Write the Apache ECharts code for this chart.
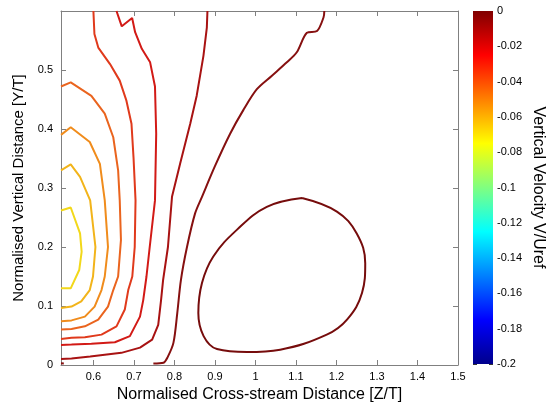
<!DOCTYPE html>
<html>
<head>
<meta charset="utf-8">
<script src="https://cdn.jsdelivr.net/npm/echarts@6/dist/echarts.min.js"></script>
<style>
html, body { margin: 0; padding: 0; background: #fff; }
#chart { width: 547px; height: 408px; }
</style>
</head>
<body>
<div id="chart"></div>
<script>
// tick labels
var xTicks = [0.6, 0.7, 0.8, 0.9, 1, 1.1, 1.2, 1.3, 1.4, 1.5];
var yTicks = [0, 0.1, 0.2, 0.3, 0.4, 0.5];

// contour lines, [z/T, y/T], innermost first
var c075 = [[0.52, 0.262], [0.544, 0.267], [0.567, 0.223], [0.571, 0.192], [0.565, 0.161], [0.544, 0.130], [0.52, 0.130]];
var c065 = [[0.52, 0.330], [0.544, 0.340], [0.567, 0.319], [0.592, 0.279], [0.605, 0.200], [0.599, 0.150], [0.591, 0.127], [0.570, 0.108], [0.546, 0.099], [0.52, 0.0965]];
var c055 = [[0.52, 0.390], [0.544, 0.403], [0.591, 0.378], [0.616, 0.341], [0.628, 0.279], [0.636, 0.200], [0.628, 0.150], [0.620, 0.127], [0.603, 0.099], [0.579, 0.082], [0.546, 0.0756], [0.52, 0.074]];
var c045 = [[0.52, 0.472], [0.544, 0.479], [0.595, 0.456], [0.628, 0.426], [0.649, 0.386], [0.661, 0.330], [0.665, 0.279], [0.668, 0.212], [0.661, 0.150], [0.649, 0.127], [0.636, 0.099], [0.612, 0.077], [0.579, 0.0655], [0.546, 0.061], [0.52, 0.060]];
var c035 = [[0.6, 0.6], [0.6025, 0.561], [0.612, 0.538], [0.641, 0.510], [0.665, 0.482], [0.6815, 0.448], [0.694, 0.409], [0.699, 0.352], [0.704, 0.279], [0.702, 0.200], [0.696, 0.150], [0.686, 0.127], [0.6775, 0.094], [0.657, 0.0655], [0.620, 0.0515], [0.579, 0.047], [0.546, 0.046], [0.52, 0.044]];
var c025 = [[0.657, 0.6], [0.670, 0.574], [0.6956, 0.588], [0.703, 0.564], [0.7195, 0.536], [0.740, 0.513], [0.752, 0.472], [0.755, 0.392], [0.752, 0.279], [0.739, 0.200], [0.731, 0.150], [0.723, 0.110], [0.715, 0.082], [0.690, 0.049], [0.653, 0.0385], [0.595, 0.036], [0.546, 0.0346], [0.52, 0.034]];
var c015 = [[0.8815, 0.6], [0.880, 0.572], [0.8716, 0.524], [0.855, 0.4565], [0.839, 0.409], [0.814, 0.341], [0.794, 0.285], [0.784, 0.200], [0.772, 0.144], [0.767, 0.110], [0.760, 0.068], [0.745, 0.043], [0.715, 0.0295], [0.669, 0.0206], [0.592, 0.0143], [0.546, 0.011], [0.52, 0.010]];
var c005 = [[1.17, 0.6], [1.168, 0.589], [1.152, 0.566], [1.127, 0.563], [1.102, 0.530], [1.0775, 0.513], [1.04, 0.49], [1.0035, 0.4675], [0.97, 0.432], [0.9375, 0.392], [0.90, 0.337], [0.868, 0.285], [0.851, 0.257], [0.831, 0.200], [0.816, 0.144], [0.807, 0.088], [0.7975, 0.0375], [0.783, 0.013], [0.773, 0.0037], [0.748, 0.0025]];
var c005corner = [[0.52, 0.003], [0.527, 0.0025]];
var c005loop = [[1.115, 0.283], [1.201, 0.260], [1.250, 0.223], [1.271, 0.1725], [1.263, 0.122], [1.226, 0.077], [1.176, 0.0515], [1.061, 0.026], [0.979, 0.022], [0.905, 0.027], [0.872, 0.049], [0.859, 0.088], [0.868, 0.139], [0.896, 0.184], [0.954, 0.229], [1.028, 0.268], [1.115, 0.283]];

// colour bar
var cbarMin = -0.2;
var cbarMax = 0;
var cbarStep = 0.02;

var lines = [
    {data: c075, color: '#f2d81a'},
    {data: c065, color: '#f2b41a'},
    {data: c055, color: '#f08c1c'},
    {data: c045, color: '#ea641e'},
    {data: c035, color: '#e03a1c'},
    {data: c025, color: '#d21a16'},
    {data: c015, color: '#a81212'},
    {data: c005, color: '#861010', smooth: 0.3},
    {data: c005corner, color: '#861010'},
    {data: c005loop, color: '#760c0c', smooth: 0.4}
];

var jet = [
    {offset: 0, color: '#800000'},
    {offset: 0.125, color: '#ff0000'},
    {offset: 0.25, color: '#ff8000'},
    {offset: 0.375, color: '#ffff00'},
    {offset: 0.5, color: '#80ff80'},
    {offset: 0.625, color: '#00ffff'},
    {offset: 0.75, color: '#0080ff'},
    {offset: 0.875, color: '#0000ff'},
    {offset: 1, color: '#00008c'}
];

var font = 'Liberation Sans';
var axisGrey = '#808080';

var series = lines.map(function (l) {
    return {
        type: 'line',
        data: l.data,
        showSymbol: false,
        symbol: 'none',
        smooth: l.smooth || false,
        lineStyle: {color: l.color, width: 2},
        xAxisIndex: 0,
        yAxisIndex: 0
    };
});
series.push({
    type: 'bar',
    data: [cbarMin],
    barWidth: '100%',
    xAxisIndex: 2,
    yAxisIndex: 2,
    itemStyle: {color: new echarts.graphic.LinearGradient(0, 0, 0, 1, jet)}
});

var myChart = echarts.init(document.getElementById('chart'));
myChart.setOption({
    animation: false,
    grid: [
        {left: 61, top: 11, width: 397, height: 354},
        {left: 473, top: 11, width: 20, height: 353}
    ],
    xAxis: [
        {
            type: 'value', gridIndex: 0, min: 0.52, max: 1.5,
            name: 'Normalised Cross-stream Distance [Z/T]',
            nameLocation: 'middle', nameGap: 19,
            nameTextStyle: {fontFamily: font, fontSize: 16, color: '#000'},
            axisLine: {onZero: false, lineStyle: {color: axisGrey}},
            axisTick: {inside: true, length: 5, customValues: xTicks, lineStyle: {color: axisGrey}},
            axisLabel: {customValues: xTicks, fontFamily: font, fontSize: 11, color: '#000', margin: 6},
            splitLine: {show: false}
        },
        {
            type: 'value', gridIndex: 0, min: 0.52, max: 1.5, position: 'top',
            axisLine: {show: true, onZero: false, lineStyle: {color: axisGrey}},
            axisTick: {inside: true, length: 5, customValues: xTicks, lineStyle: {color: axisGrey}},
            axisLabel: {show: false},
            splitLine: {show: false}
        },
        {
            type: 'category', gridIndex: 1, data: ['v'], show: false
        }
    ],
    yAxis: [
        {
            type: 'value', gridIndex: 0, min: 0, max: 0.6,
            name: 'Normalised Vertical Distance [Y/T]',
            nameLocation: 'middle', nameGap: 32,
            nameTextStyle: {fontFamily: font, fontSize: 15, color: '#000'},
            axisLine: {show: true, onZero: false, lineStyle: {color: axisGrey}},
            axisTick: {show: true, inside: true, length: 5, customValues: yTicks, lineStyle: {color: axisGrey}},
            axisLabel: {customValues: yTicks, fontFamily: font, fontSize: 11, color: '#000', margin: 8},
            splitLine: {show: false}
        },
        {
            type: 'value', gridIndex: 0, min: 0, max: 0.6, position: 'right',
            axisLine: {show: true, onZero: false, lineStyle: {color: axisGrey}},
            axisTick: {show: true, inside: true, length: 5, customValues: yTicks, lineStyle: {color: axisGrey}},
            axisLabel: {show: false},
            splitLine: {show: false}
        },
        {
            type: 'value', gridIndex: 1, min: cbarMin, max: cbarMax, interval: cbarStep, position: 'right',
            name: 'Vertical Velocity V/Uref',
            nameLocation: 'middle', nameGap: 37, nameRotate: -90,
            nameTextStyle: {fontFamily: font, fontSize: 16, color: '#000'},
            axisLine: {show: false, onZero: false},
            axisTick: {show: true, inside: true, length: 4, lineStyle: {color: '#333'}},
            axisLabel: {fontFamily: font, fontSize: 11, color: '#000', margin: 4},
            splitLine: {show: false}
        },
        {
            type: 'value', gridIndex: 1, min: cbarMin, max: cbarMax, interval: cbarStep, position: 'left',
            axisLine: {show: false, onZero: false},
            axisTick: {show: true, inside: true, length: 4, lineStyle: {color: '#333'}},
            axisLabel: {show: false},
            splitLine: {show: false}
        }
    ],
    series: series
});
</script>
</body>
</html>
